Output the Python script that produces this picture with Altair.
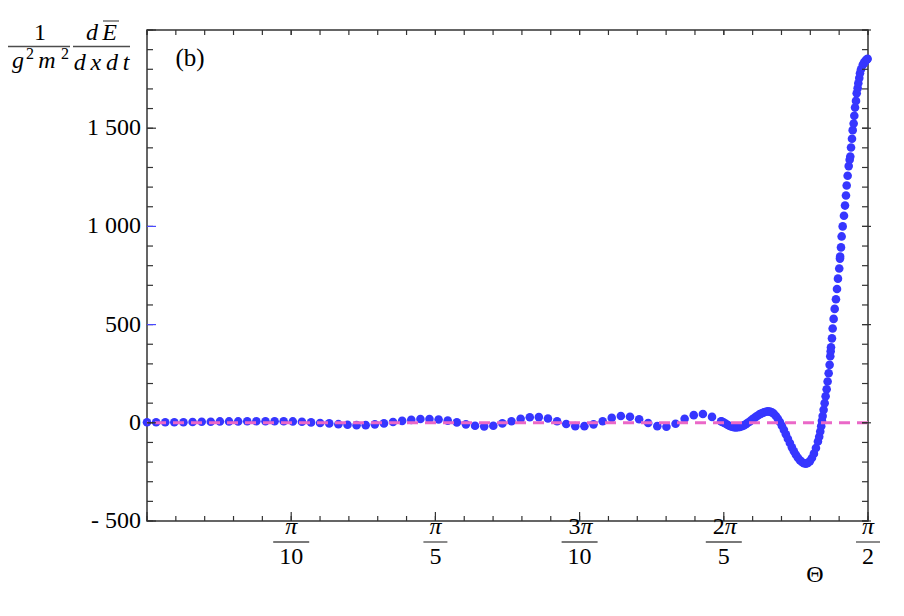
import altair as alt
import pandas as pd

# Theta in degrees (pi/2 = 90 deg); value = (1/g^2 m^2) dE/dxdt
theta_sparse = [0.00, 1.14, 2.28, 3.41, 4.55, 5.69, 6.83, 7.96, 9.10, 10.24,
                11.38, 12.51, 13.65, 14.79, 15.93, 17.06, 18.20, 19.34, 20.48, 21.61,
                22.75, 23.89, 25.03, 26.16, 27.30, 28.44, 29.58, 30.71, 31.85, 32.99,
                34.13, 35.26, 36.40, 37.54, 38.68, 39.81, 40.95, 42.09, 43.23, 44.36,
                45.50, 46.64, 47.78, 48.91, 50.05, 51.19, 52.33, 53.46, 54.60, 55.74,
                56.88, 58.01, 59.15, 60.29, 61.43, 62.56, 63.70, 64.84, 65.98, 67.11,
                68.25, 69.39, 70.53, 71.66]
value_sparse = [3, 3, 3, 3, 3, 4, 5, 5, 7, 7,
                7, 8, 8, 8, 8, 8, 7, 5, 2, -1,
                -3, -7, -10, -12, -12, -8, -3, 4, 10, 15,
                19, 19, 17, 11, 2, -8, -15, -18, -15, -3,
                8, 20, 28, 29, 22, 8, -6, -17, -17, -8,
                8, 25, 35, 31, 18, -1, -17, -20, -5, 20,
                39, 45, 30, 8]

theta_dense = [71.75, 72.00, 72.25, 72.50, 72.75, 73.00, 73.25, 73.50, 73.75, 74.00,
               74.25, 74.50, 74.75, 75.00, 75.25, 75.50, 75.75, 76.00, 76.25, 76.50,
               76.75, 77.00, 77.25, 77.50, 77.75, 78.00, 78.25, 78.50, 78.75, 79.00,
               79.25, 79.50, 79.75, 80.00, 80.25, 80.50, 80.75, 81.00, 81.25, 81.50,
               81.75, 82.00, 82.25, 82.50, 82.75, 83.00, 83.25, 83.50, 83.75,
               83.91, 84.04, 84.16, 84.25, 84.34, 84.46, 84.59, 84.71, 84.84, 84.96,
               85.09, 85.21, 85.29, 85.34, 85.38, 85.50, 85.59, 85.71, 85.84, 86.00,
               86.13, 86.25, 86.41, 86.50, 86.52, 86.63, 86.71, 86.84, 87.00, 87.13,
               87.25, 87.34, 87.46, 87.59, 87.71, 87.79, 87.88, 88.00, 88.09, 88.21,
               88.29, 88.38, 88.50, 88.59, 88.71, 88.79, 88.91, 89.00, 89.13, 89.34,
               89.45, 89.55, 89.63, 89.75, 89.88, 89.95]
value_dense = [6, 1, -5, -11, -16, -20, -23, -24, -23, -21,
               -17, -13, -7, 0, 7, 15, 23, 30, 37, 44,
               49, 53, 56, 58, 57, 53, 46, 35, 21, 4,
               -15, -36, -58, -81, -103, -125, -145, -163, -178, -191,
               -200, -206, -208, -204, -195, -179, -157, -128, -95,
               -71, -44, -17, 10, 34, 66, 100, 135, 171, 210,
               252, 295, 339, 364, 385, 430, 480, 529, 580, 629,
               681, 734, 786, 836, 846, 893, 949, 1000, 1054, 1106,
               1157, 1208, 1258, 1307, 1339, 1356, 1402, 1446, 1490, 1524,
               1563, 1605, 1639, 1678, 1704, 1729, 1755, 1780, 1800, 1822,
               1829, 1835, 1839, 1846, 1851, 1853]

y_label_values = [-500, 0, 500, 1000, 1500]
y_label_text = ["- 500", "0", "500", "1 000", "1 500"]
y_major_ticks = [-500, 0, 500, 1000, 1500, 2000]
y_minor_ticks = list(range(-500, 2001, 100))
x_major_ticks = [0, 18, 36, 54, 72, 90]
x_minor_ticks = [round(3.6 * k, 1) for k in range(26)]

x_frac_pos = [18, 36, 54, 72, 90]
x_frac_coef = ["", "", "3", "2", ""]
x_frac_den = ["10", "5", "10", "5", "2"]

W, H = 721, 491
FONT = "Liberation Serif"
INK = "#333333"

pts = pd.DataFrame({"theta": theta_sparse + theta_dense,
                    "value": value_sparse + value_dense})

xs = alt.Scale(domain=[0, 90], nice=False, zero=False)
ys = alt.Scale(domain=[-500, 2000], nice=False, zero=False)

points = alt.Chart(pts).mark_circle(size=74, color="#3636ff", opacity=1).encode(
    x=alt.X("theta:Q", scale=xs, axis=None),
    y=alt.Y("value:Q", scale=ys, axis=None),
)

zero = alt.Chart(pd.DataFrame({"v": [0]})).mark_rule(
    color="#ea68c8", strokeDash=[11, 7], strokeWidth=3
).encode(y=alt.Y("v:Q", scale=ys, axis=None))

ylab = alt.Chart(pd.DataFrame({"v": y_label_values, "t": y_label_text})).mark_text(
    font=FONT, fontSize=24, align="right", baseline="middle", color="black"
).encode(y=alt.Y("v:Q", scale=ys, axis=None), x=alt.value(-6), text="t:N")


def yticks(vals, x1, x2, blue=False):
    c = alt.Chart(pd.DataFrame({"v": vals})).mark_rule(strokeWidth=1.2)
    color = (alt.condition("datum.v == 500 || datum.v == 1000",
                           alt.value("#4a4aff"), alt.value(INK))
             if blue else alt.value(INK))
    return c.encode(y=alt.Y("v:Q", scale=ys, axis=None),
                    x=alt.value(x1), x2=alt.value(x2), color=color)


def xticks(vals, y1, y2):
    return alt.Chart(pd.DataFrame({"v": vals})).mark_rule(
        strokeWidth=1.2, color=INK
    ).encode(x=alt.X("v:Q", scale=xs, axis=None), y=alt.value(y1), y2=alt.value(y2))


tick_layers = [
    yticks(y_minor_ticks, 0, 6),
    yticks(y_major_ticks, 0, 9, blue=True),
    yticks(y_minor_ticks, W - 6, W),
    yticks(y_major_ticks, W - 6, W + 3),
    xticks(x_minor_ticks, H, H - 5),
    xticks(x_major_ticks, H, H - 9),
    xticks(x_minor_ticks, 0, 5),
    xticks(x_major_ticks, 0, 5),
]

frac = pd.DataFrame({"pos": x_frac_pos, "coef": x_frac_coef, "den": x_frac_den})
frac["w"] = [12 * max(len(c) + 1, len(d)) + 12 for c, d in zip(x_frac_coef, x_frac_den)]
frac_plain = frac[frac["coef"] == ""]
frac_coef = frac[frac["coef"] != ""]

pi_plain = alt.Chart(frac_plain).mark_text(
    text="π", font=FONT, fontSize=24, fontStyle="italic", baseline="alphabetic", align="center", color="black"
).encode(x=alt.X("pos:Q", scale=xs, axis=None), y=alt.value(H + 13))
coef_layer = alt.Chart(frac_coef).mark_text(
    font=FONT, fontSize=24, baseline="alphabetic", align="right", dx=1, color="black"
).encode(x=alt.X("pos:Q", scale=xs, axis=None), y=alt.value(H + 13), text="coef:N")
pi_coef = alt.Chart(frac_coef).mark_text(
    text="π", font=FONT, fontSize=24, fontStyle="italic", baseline="alphabetic", align="left", dx=1, color="black"
).encode(x=alt.X("pos:Q", scale=xs, axis=None), y=alt.value(H + 13))
bar_layer = alt.Chart(frac).mark_tick(
    orient="horizontal", thickness=1.3, color="black"
).encode(x=alt.X("pos:Q", scale=xs, axis=None), y=alt.value(H + 21),
         size=alt.Size("w:Q", scale=None))
den_layer = alt.Chart(frac).mark_text(
    font=FONT, fontSize=24, baseline="alphabetic", align="center", color="black"
).encode(x=alt.X("pos:Q", scale=xs, axis=None), y=alt.value(H + 43), text="den:N")

one = pd.DataFrame({"k": [0]})


def txt(s, x, y, size=23, italic=False):
    return alt.Chart(one).mark_text(
        text=s, font=FONT, fontSize=size, fontStyle="italic" if italic else "normal",
        align="center", baseline="alphabetic", color="black"
    ).encode(x=alt.value(x), y=alt.value(y))


def hline(x, y, w, thick=1.3):
    return alt.Chart(one).mark_tick(
        orient="horizontal", size=w, thickness=thick, color="black"
    ).encode(x=alt.value(x), y=alt.value(y))


annotations = [
    txt("Θ", 668, H + 61, size=24),
    txt("(b)", 43, 36, size=25),
    # y title: 1/(g^2 m^2) dE/(dx dt)
    txt("1", -107, 10, size=24),
    hline(-108, 16.5, 62),
    txt("g", -129, 38, size=24, italic=True),
    txt("2", -117, 29, size=16),
    txt("m", -100, 38, size=24, italic=True),
    txt("2", -82, 29, size=16),
    txt("d", -55, 10, size=24, italic=True),
    txt("E", -37.5, 10, size=24, italic=True),
    hline(-36, -9, 16, thick=1.2),
    hline(-45.5, 16.5, 57),
    txt("d\u2009x\u2009d\u2009t", -45.5, 40, size=24, italic=True),
]

chart = alt.layer(
    points, zero, ylab, *tick_layers, pi_plain, coef_layer, pi_coef, bar_layer, den_layer,
    *annotations
).properties(
    width=W, height=H,
    autosize=alt.AutoSizeParams(type="none"),
    padding={"left": 139, "top": 22, "right": 28, "bottom": 87},
).configure_view(stroke=INK, strokeWidth=1.5)

chart.save("out.html", embed_options={"renderer": "svg", "actions": False})
